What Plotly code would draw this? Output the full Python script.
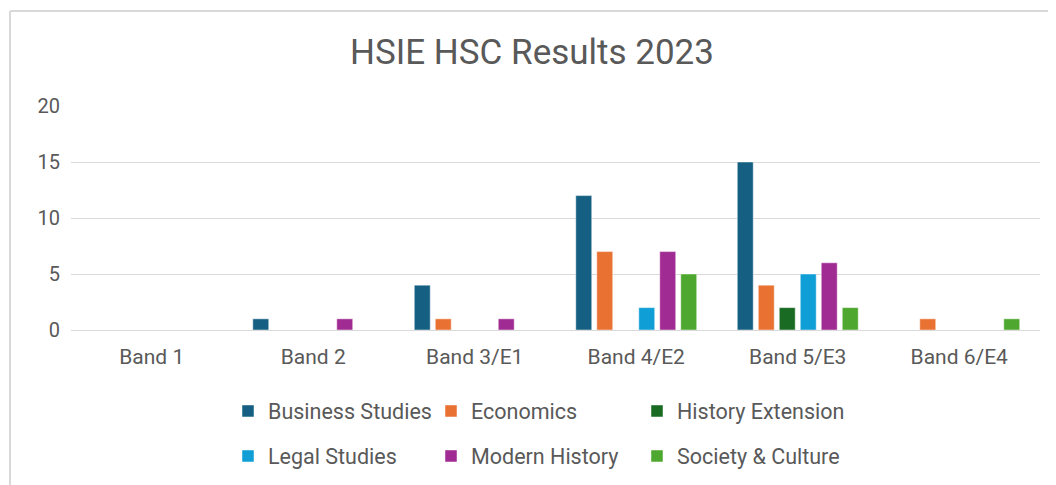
import plotly.graph_objects as go

categories = ["Band 1", "Band 2", "Band 3/E1", "Band 4/E2", "Band 5/E3", "Band 6/E4"]
business_studies = [0, 1, 4, 12, 15, 0]
economics = [0, 0, 1, 7, 4, 1]
history_extension = [0, 0, 0, 0, 2, 0]
legal_studies = [0, 0, 0, 2, 5, 0]
modern_history = [0, 1, 1, 7, 6, 0]
society_culture = [0, 0, 0, 5, 2, 1]

series = [
    ("Business Studies", business_studies, "#156082"),
    ("Economics", economics, "#E97132"),
    ("History Extension", history_extension, "#196B24"),
    ("Legal Studies", legal_studies, "#0F9ED5"),
    ("Modern History", modern_history, "#A02B93"),
    ("Society & Culture", society_culture, "#4EA72E"),
]

FONT = "Roboto, Inter, Arial, sans-serif"
W, H = 1048, 477
col_x = [220, 423, 629]
row_y = [403, 448]

fig = go.Figure()
legends = {}
for i, (name, vals, color) in enumerate(series):
    key = "legend" if i == 0 else f"legend{i + 1}"
    fig.add_trace(go.Bar(
        name=name, x=categories, y=vals, showlegend=True,
        marker=dict(color=color, line=dict(color="rgba(255,255,255,0.6)", width=0.8)),
        legend=key,
    ))
    legends[key] = dict(
        orientation="h", xref="container", yref="container",
        xanchor="left", yanchor="middle",
        x=col_x[i % 3] / W, y=1 - row_y[i // 3] / H,
        font=dict(family=FONT, size=21.5, color="#595959"),
        bgcolor="rgba(0,0,0,0)", itemclick=False, visible=True,
    )

fig.update_layout(
    width=W, height=H, showlegend=True,
    paper_bgcolor="white", plot_bgcolor="white",
    margin=dict(l=63, r=16, t=98, b=155),
    barmode="group", bargap=0.22, bargroupgap=0.24,
    title=dict(text="HSIE HSC Results 2023", x=0.5, xanchor="center",
               y=1 - 44 / H, yanchor="middle",
               font=dict(family=FONT, size=35, color="#595959")),
    xaxis=dict(showgrid=False, showline=False, ticks="", ticklabelstandoff=12,
               tickfont=dict(family=FONT, size=21, color="#595959")),
    yaxis=dict(range=[0, 20], dtick=5, showgrid=True, gridcolor="#D9D9D9",
               gridwidth=1, zeroline=True, zerolinecolor="#D9D9D9", zerolinewidth=1,
               ticks="", ticklabelstandoff=10,
               tickfont=dict(family=FONT, size=20, color="#595959")),
    shapes=[
        dict(type="line", xref="paper", yref="paper", x0=-61 / 969, x1=1.1,
             y0=1 + 95 / 224, y1=1 + 95 / 224, line=dict(color="#D9D9D9", width=2)),
        dict(type="line", xref="paper", yref="paper", x0=-61 / 969, x1=-61 / 969,
             y0=1 + 95 / 224, y1=-0.8, line=dict(color="#D9D9D9", width=2)),
    ],
    **legends,
)

fig.write_html("out.html")
